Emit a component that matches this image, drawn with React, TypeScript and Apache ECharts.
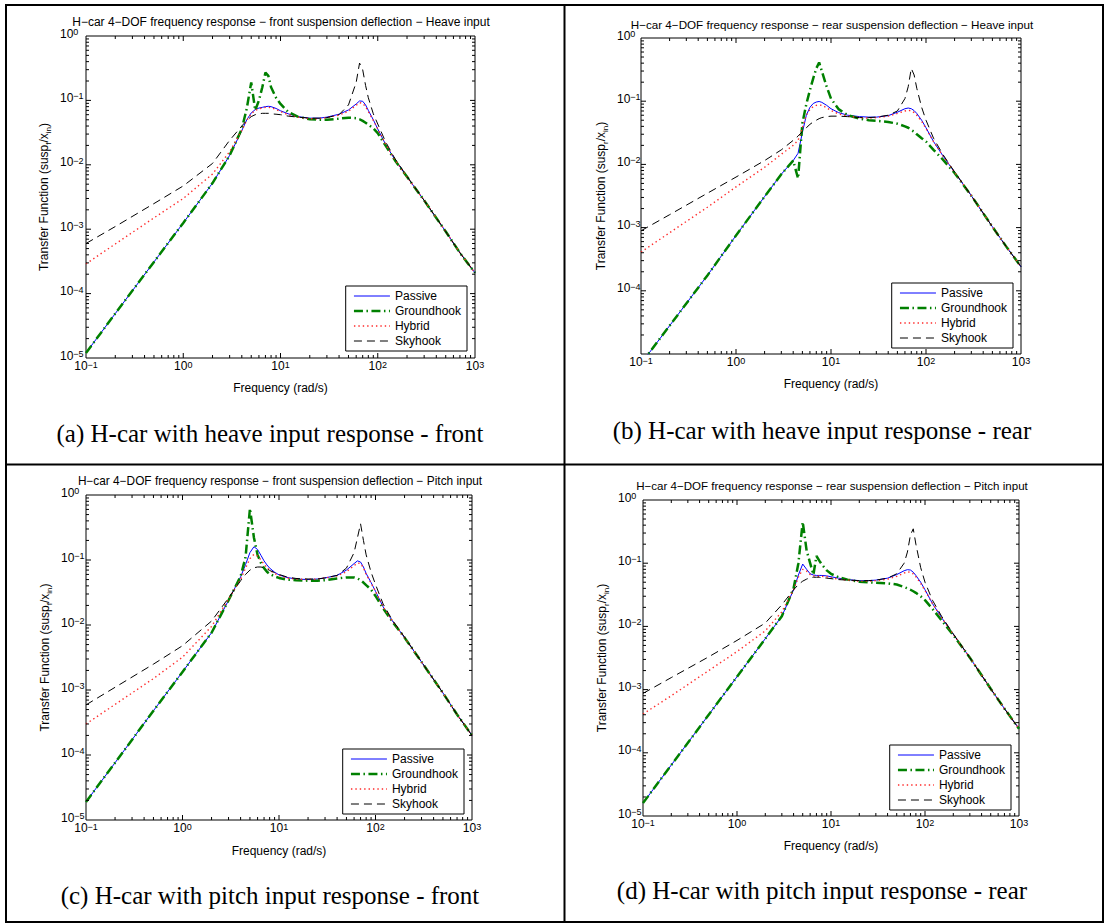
import React, { useEffect, useRef } from "react";
import * as echarts from "echarts";

const FONT = "Liberation Sans";
const SERIF = "Liberation Serif";

// Frequencies (rad/s) at which the curves were read
const FREQ = [0.1, 0.2, 0.5, 1, 2, 3, 4, 4.5, 5, 5.5, 6, 6.5, 7, 7.5, 8, 9, 10, 12, 15, 20, 25, 30, 40, 50, 60, 65, 70, 75, 80, 90, 100, 120, 150, 200, 300, 500, 700, 1000];

// (a) heave input - front
const PASSIVE_A = [1.2e-5, 4.9e-5, 3.1e-4, 1.25e-3, 5.2e-3, 0.014, 0.034, 0.05, 0.064, 0.072, 0.076, 0.078, 0.08, 0.081, 0.08, 0.075, 0.069, 0.062, 0.056, 0.053, 0.053, 0.055, 0.061, 0.071, 0.088, 0.098, 0.097, 0.085, 0.07, 0.05, 0.036, 0.021, 0.012, 6.5e-3, 2.8e-3, 9.2e-4, 4.3e-4, 2.1e-4];
const GROUND_A = [1.2e-5, 4.9e-5, 3.1e-4, 1.25e-3, 5.2e-3, 0.014, 0.036, 0.075, 0.19, 0.07, 0.1, 0.16, 0.27, 0.24, 0.16, 0.11, 0.088, 0.066, 0.056, 0.051, 0.05, 0.05, 0.052, 0.054, 0.053, 0.051, 0.048, 0.045, 0.042, 0.037, 0.031, 0.02, 0.0118, 6.5e-3, 2.8e-3, 9.2e-4, 4.3e-4, 2.1e-4];
const HYBRID_A = [2.9e-4, 5.9e-4, 1.5e-3, 3.0e-3, 7.2e-3, 0.016, 0.034, 0.049, 0.062, 0.07, 0.074, 0.076, 0.078, 0.078, 0.077, 0.072, 0.067, 0.06, 0.055, 0.052, 0.052, 0.054, 0.059, 0.068, 0.084, 0.092, 0.09, 0.08, 0.067, 0.049, 0.036, 0.021, 0.012, 6.5e-3, 2.8e-3, 9.2e-4, 4.3e-4, 2.1e-4];
const SKY_A = [6e-4, 1.1e-3, 2.5e-3, 4.7e-3, 0.0105, 0.024, 0.04, 0.049, 0.056, 0.06, 0.062, 0.063, 0.063, 0.063, 0.062, 0.061, 0.06, 0.057, 0.055, 0.053, 0.053, 0.054, 0.06, 0.085, 0.19, 0.38, 0.3, 0.17, 0.11, 0.062, 0.043, 0.023, 0.0125, 6.6e-3, 2.8e-3, 9.2e-4, 4.3e-4, 2.1e-4];

// (b) heave input - rear
const PASSIVE_B = [7e-6, 2.8e-5, 1.75e-4, 7.5e-4, 3.1e-3, 7e-3, 0.0115, 0.015, 0.032, 0.06, 0.08, 0.092, 0.097, 0.099, 0.096, 0.086, 0.076, 0.066, 0.06, 0.057, 0.056, 0.056, 0.059, 0.067, 0.076, 0.078, 0.076, 0.071, 0.064, 0.05, 0.038, 0.023, 0.0138, 7.5e-3, 3.2e-3, 1.03e-3, 5e-4, 2.4e-4];
const GROUND_B = [7e-6, 2.8e-5, 1.75e-4, 7.5e-4, 3.1e-3, 7e-3, 0.0115, 6e-3, 0.045, 0.09, 0.15, 0.23, 0.33, 0.41, 0.3, 0.17, 0.11, 0.075, 0.06, 0.053, 0.05, 0.049, 0.047, 0.044, 0.04, 0.038, 0.035, 0.033, 0.03, 0.026, 0.023, 0.017, 0.012, 7.3e-3, 3.2e-3, 1.03e-3, 5e-4, 2.4e-4];
const HYBRID_B = [4.1e-4, 8.3e-4, 2.1e-3, 4.4e-3, 9e-3, 0.0145, 0.02, 0.024, 0.038, 0.06, 0.074, 0.082, 0.086, 0.087, 0.086, 0.079, 0.071, 0.063, 0.058, 0.055, 0.054, 0.055, 0.058, 0.064, 0.07, 0.072, 0.07, 0.066, 0.06, 0.048, 0.037, 0.023, 0.0138, 7.5e-3, 3.2e-3, 1.03e-3, 5e-4, 2.4e-4];
const SKY_B = [8.9e-4, 1.6e-3, 3.5e-3, 6.3e-3, 0.0115, 0.017, 0.024, 0.028, 0.033, 0.038, 0.043, 0.047, 0.05, 0.053, 0.055, 0.057, 0.058, 0.058, 0.057, 0.055, 0.055, 0.056, 0.06, 0.07, 0.11, 0.17, 0.33, 0.26, 0.16, 0.08, 0.05, 0.026, 0.0145, 7.6e-3, 3.2e-3, 1.03e-3, 5e-4, 2.4e-4];

// (c) pitch input - front
const PASSIVE_C = [1.9e-5, 7.6e-5, 4.8e-4, 1.9e-3, 7.6e-3, 0.024, 0.055, 0.085, 0.13, 0.16, 0.145, 0.118, 0.097, 0.084, 0.075, 0.065, 0.059, 0.054, 0.051, 0.05, 0.051, 0.053, 0.058, 0.07, 0.088, 0.097, 0.093, 0.078, 0.062, 0.045, 0.033, 0.019, 0.0115, 6.4e-3, 2.7e-3, 9e-4, 4.2e-4, 2e-4];
const GROUND_C = [1.9e-5, 7.6e-5, 4.8e-4, 1.9e-3, 7.6e-3, 0.024, 0.056, 0.11, 0.62, 0.22, 0.12, 0.09, 0.075, 0.066, 0.061, 0.056, 0.053, 0.05, 0.049, 0.048, 0.048, 0.049, 0.052, 0.054, 0.054, 0.052, 0.049, 0.045, 0.041, 0.035, 0.028, 0.018, 0.0112, 6.4e-3, 2.7e-3, 9e-4, 4.2e-4, 2e-4];
const HYBRID_C = [3e-4, 6e-4, 1.5e-3, 3.2e-3, 9.5e-3, 0.025, 0.05, 0.075, 0.105, 0.122, 0.115, 0.1, 0.086, 0.077, 0.07, 0.062, 0.058, 0.053, 0.051, 0.05, 0.051, 0.053, 0.057, 0.066, 0.082, 0.09, 0.088, 0.076, 0.06, 0.044, 0.033, 0.019, 0.0115, 6.4e-3, 2.7e-3, 9e-4, 4.2e-4, 2e-4];
const SKY_C = [5.9e-4, 1.1e-3, 2.5e-3, 4.8e-3, 0.0115, 0.026, 0.048, 0.06, 0.07, 0.076, 0.078, 0.078, 0.076, 0.073, 0.069, 0.064, 0.06, 0.055, 0.052, 0.051, 0.051, 0.053, 0.058, 0.075, 0.13, 0.22, 0.36, 0.2, 0.12, 0.065, 0.042, 0.021, 0.0118, 6.5e-3, 2.7e-3, 9e-4, 4.2e-4, 2e-4];

// (d) pitch input - rear
const PASSIVE_D = [1.6e-5, 6.4e-5, 4e-4, 1.6e-3, 6.4e-3, 0.0145, 0.038, 0.065, 0.097, 0.08, 0.068, 0.065, 0.064, 0.064, 0.064, 0.063, 0.061, 0.058, 0.055, 0.053, 0.053, 0.054, 0.058, 0.066, 0.076, 0.079, 0.078, 0.072, 0.064, 0.05, 0.038, 0.023, 0.0138, 7.5e-3, 3.2e-3, 1.03e-3, 5e-4, 2.4e-4];
const GROUND_D = [1.6e-5, 6.4e-5, 4e-4, 1.6e-3, 6.4e-3, 0.0145, 0.04, 0.1, 0.45, 0.16, 0.1, 0.066, 0.13, 0.11, 0.095, 0.077, 0.068, 0.06, 0.055, 0.051, 0.05, 0.049, 0.048, 0.046, 0.042, 0.04, 0.038, 0.036, 0.034, 0.03, 0.026, 0.019, 0.0125, 7.3e-3, 3.2e-3, 1.03e-3, 5e-4, 2.4e-4];
const HYBRID_D = [4.1e-4, 8e-4, 2e-3, 4e-3, 8.5e-3, 0.017, 0.038, 0.06, 0.08, 0.075, 0.066, 0.063, 0.062, 0.062, 0.062, 0.061, 0.059, 0.056, 0.054, 0.052, 0.052, 0.053, 0.056, 0.062, 0.07, 0.073, 0.072, 0.068, 0.061, 0.048, 0.037, 0.023, 0.0138, 7.5e-3, 3.2e-3, 1.03e-3, 5e-4, 2.4e-4];
const SKY_D = [8.7e-4, 1.55e-3, 3.3e-3, 6e-3, 0.0113, 0.022, 0.038, 0.046, 0.052, 0.056, 0.059, 0.06, 0.06, 0.06, 0.059, 0.058, 0.057, 0.055, 0.054, 0.053, 0.053, 0.054, 0.058, 0.068, 0.1, 0.15, 0.28, 0.35, 0.2, 0.085, 0.05, 0.026, 0.0145, 7.6e-3, 3.2e-3, 1.03e-3, 5e-4, 2.4e-4];

const SERIES_NAMES = ["Passive", "Groundhook", "Hybrid", "Skyhook"];
const PANEL_DATA = [
  [PASSIVE_A, GROUND_A, HYBRID_A, SKY_A],
  [PASSIVE_B, GROUND_B, HYBRID_B, SKY_B],
  [PASSIVE_C, GROUND_C, HYBRID_C, SKY_C],
  [PASSIVE_D, GROUND_D, HYBRID_D, SKY_D],
];
const TITLES = [
  "H−car 4−DOF frequency response − front suspension deflection − Heave input",
  "H−car 4−DOF frequency response − rear suspension deflection − Heave input",
  "H−car 4−DOF frequency response − front suspension deflection − Pitch input",
  "H−car 4−DOF frequency response − rear suspension deflection − Pitch input",
];
const CAPTIONS = [
  "(a) H-car with heave input response - front",
  "(b) H-car with heave input response - rear",
  "(c) H-car with pitch input response - front",
  "(d) H-car with pitch input response - rear",
];
const SUBSCRIPTS = ["f", "r", "f", "r"];
const X_NAME = "Frequency (rad/s)";
const X_MIN = 0.1;
const X_MAX = 1000;
const Y_MIN = 1e-5;
const Y_MAX = 1;
const X_DECADES = [0.1, 1, 10, 100];
const Y_DECADES = [1e-5, 1e-4, 1e-3, 1e-2, 1e-1];
const MANTISSAS = [1, 2, 3, 4, 5, 6, 7, 8, 9];
const HIDE_BOTTOM_Y_LABEL = [false, true, false, false];

// layout
const GRIDS = [
  { left: 86, top: 36, width: 389, height: 322 },
  { left: 641, top: 38, width: 380, height: 316 },
  { left: 86, top: 495, width: 386, height: 325 },
  { left: 643, top: 500, width: 376, height: 316 },
];
const Y_LABEL_MARGIN = [26, 24, 25, 25];
const X_NAME_GAP = [24, 24, 25, 24];
const Y_NAME_GAP = [34, 32, 33, 33];
const TITLE_POS = [[281, 22], [832, 24], [280, 481], [832, 486]];
const TITLE_SIZE = [12, 11.65, 11.85, 11.55];
const CAPTION_POS = [[270, 433], [822, 430], [270, 895], [822, 890]];
const LEGEND_POS = [
  { right: 637, bottom: 572 },
  { right: 91, bottom: 575 },
  { right: 640, bottom: 109 },
  { right: 93, bottom: 113 },
];
const LINE_STYLES = [
  { color: "#0000ff", width: 1, type: "solid" as any },
  { color: "#008000", width: 2.5, type: [9, 3.5, 1.5, 3.5] },
  { color: "#ff2a2a", width: 1.4, type: [1.4, 3] },
  { color: "#000000", width: 1, type: [8, 5] },
];

const supLabel = (v: number) => {
  const e = Math.round(Math.log10(v));
  const s = e < 0 ? "−" + -e : String(e);
  return `{b|10}{e|${s}}`;
};

const labelRich = {
  b: { fontSize: 12, lineHeight: 12, padding: [6, 0, 0, 0], verticalAlign: "bottom", fontFamily: FONT, color: "#000" },
  e: { fontSize: 9, lineHeight: 9, verticalAlign: "top", fontFamily: FONT, color: "#000" },
};

function buildXTicks() {
  const out: number[][] = [];
  X_DECADES.forEach((d) =>
    MANTISSAS.forEach((m) => {
      const x = m * d;
      if (x > X_MIN * 1.001 && x < X_MAX * 0.999) out.push([x, Y_MIN]);
    })
  );
  return out;
}
function buildYTicks() {
  const out: number[][] = [];
  Y_DECADES.forEach((d) =>
    MANTISSAS.forEach((m) => {
      const y = m * d;
      if (y > Y_MIN * 1.001 && y < Y_MAX * 0.999) out.push([X_MIN, y]);
    })
  );
  return out;
}
const isDecade = (v: number) => Math.abs(Math.log10(v) - Math.round(Math.log10(v))) < 1e-6;
const TICK_STYLE = { stroke: "#000", lineWidth: 1 };

function xTickRender(params: any, api: any) {
  const x = api.value(0);
  const len = isDecade(x) ? 5 : 3;
  const b = api.coord([x, Y_MIN]);
  const t = api.coord([x, Y_MAX]);
  return {
    type: "group",
    children: [
      { type: "line", shape: { x1: b[0], y1: b[1], x2: b[0], y2: b[1] - len }, style: TICK_STYLE },
      { type: "line", shape: { x1: t[0], y1: t[1], x2: t[0], y2: t[1] + len }, style: TICK_STYLE },
    ],
  };
}
function yTickRender(params: any, api: any) {
  const y = api.value(1);
  const len = isDecade(y) ? 5 : 3;
  const l = api.coord([X_MIN, y]);
  const r = api.coord([X_MAX, y]);
  return {
    type: "group",
    children: [
      { type: "line", shape: { x1: l[0], y1: l[1], x2: l[0] + len, y2: l[1] }, style: TICK_STYLE },
      { type: "line", shape: { x1: r[0], y1: r[1], x2: r[0] - len, y2: r[1] }, style: TICK_STYLE },
    ],
  };
}

function buildOption() {
  const xTicks = buildXTicks();
  const yTicks = buildYTicks();
  const grid: any[] = [];
  const xAxis: any[] = [];
  const yAxis: any[] = [];
  const series: any[] = [];
  const legend: any[] = [];
  const graphic: any[] = [];

  for (let p = 0; p < 4; p++) {
    grid.push({
      ...GRIDS[p],
      show: true,
      borderColor: "#000",
      borderWidth: 1,
      backgroundColor: "transparent",
    });
    xAxis.push({
      type: "log",
      logBase: 10,
      gridIndex: p,
      min: X_MIN,
      max: X_MAX,
      axisLine: { show: false },
      axisTick: { show: false },
      splitLine: { show: false },
      axisLabel: { formatter: supLabel, rich: labelRich, margin: 2 },
      name: X_NAME,
      nameLocation: "middle",
      nameGap: X_NAME_GAP[p],
      nameTextStyle: { fontSize: 12, color: "#000", fontFamily: FONT },
    });
    const hide = HIDE_BOTTOM_Y_LABEL[p];
    yAxis.push({
      type: "log",
      logBase: 10,
      gridIndex: p,
      min: Y_MIN,
      max: Y_MAX,
      axisLine: { show: false },
      axisTick: { show: false },
      splitLine: { show: false },
      axisLabel: {
        formatter: (v: number) => (hide && Math.round(Math.log10(v)) === -5 ? "" : supLabel(v)),
        rich: labelRich,
        margin: Y_LABEL_MARGIN[p],
        align: "left",
        padding: [0, 0, 5, 0],
      },
      name: `{n|Transfer Function (susp}{s|${SUBSCRIPTS[p]}}{n|/x}{s|in}{n|)}`,
      nameLocation: "middle",
      nameGap: Y_NAME_GAP[p],
      nameTextStyle: {
        color: "#000",
        fontFamily: FONT,
        rich: {
          n: { fontSize: 12, lineHeight: 14, verticalAlign: "top", fontFamily: FONT, color: "#000" },
          s: { fontSize: 8, lineHeight: 8, padding: [7, 0, 0, 0], verticalAlign: "bottom", fontFamily: FONT, color: "#000" },
        },
      },
    });
    PANEL_DATA[p].forEach((vals, k) => {
      const ls = LINE_STYLES[k];
      series.push({
        type: "line",
        name: SERIES_NAMES[k],
        xAxisIndex: p,
        yAxisIndex: p,
        data: FREQ.map((f, i) => [f, vals[i]]),
        symbol: "none",
        color: ls.color,
        lineStyle: { color: ls.color, width: ls.width, type: ls.type },
        z: 3 + k,
        clip: true,
        silent: true,
      });
    });
    series.push({
      type: "custom",
      name: "xticks" + p,
      xAxisIndex: p,
      yAxisIndex: p,
      data: xTicks,
      renderItem: xTickRender,
      silent: true,
      z: 10,
    });
    series.push({
      type: "custom",
      name: "yticks" + p,
      xAxisIndex: p,
      yAxisIndex: p,
      data: yTicks,
      renderItem: yTickRender,
      silent: true,
      z: 10,
    });
    legend.push({
      ...LEGEND_POS[p],
      orient: "vertical",
      data: SERIES_NAMES,
      itemWidth: 36,
      itemHeight: 10,
      itemGap: 1,
      padding: [3, 6, 3, 7],
      borderColor: "#000",
      borderWidth: 1,
      backgroundColor: "#fff",
      selectedMode: false,
      itemStyle: { opacity: 0 },
      lineStyle: { width: "inherit" },
      textStyle: { fontSize: 12, lineHeight: 14, color: "#000", fontFamily: FONT },
      z: 20,
    });
    graphic.push({
      type: "text",
      x: TITLE_POS[p][0],
      y: TITLE_POS[p][1],
      style: {
        text: TITLES[p],
        font: `${TITLE_SIZE[p]}px "${FONT}"`,
        fill: "#000",
        align: "center",
        verticalAlign: "middle",
        textAlign: "center",
        textVerticalAlign: "middle",
      },
    });
    graphic.push({
      type: "text",
      x: CAPTION_POS[p][0],
      y: CAPTION_POS[p][1],
      style: {
        text: CAPTIONS[p],
        font: `25px "${SERIF}"`,
        fill: "#000",
        align: "center",
        verticalAlign: "middle",
        textAlign: "center",
        textVerticalAlign: "middle",
      },
    });
  }

  // table borders
  graphic.push({
    type: "rect",
    shape: { x: 6, y: 5, width: 1097, height: 917 },
    style: { fill: "none", stroke: "#000", lineWidth: 2 },
  });
  graphic.push({
    type: "line",
    shape: { x1: 564.5, y1: 5, x2: 564.5, y2: 922 },
    style: { stroke: "#000", lineWidth: 2 },
  });
  graphic.push({
    type: "line",
    shape: { x1: 6, y1: 464.5, x2: 1103, y2: 464.5 },
    style: { stroke: "#000", lineWidth: 2 },
  });

  return {
    animation: false,
    backgroundColor: "#fff",
    textStyle: { fontFamily: FONT },
    grid,
    xAxis,
    yAxis,
    legend,
    series,
    graphic,
  };
}

export default function App() {
  const ref = useRef<HTMLDivElement>(null);
  useEffect(() => {
    if (!ref.current) return;
    const chart = echarts.init(ref.current, undefined, { renderer: "svg" });
    chart.setOption(buildOption() as any);
    return () => chart.dispose();
  }, []);
  return (
    <div
      ref={ref}
      style={{ position: "absolute", left: 0, top: 0, width: 1104, height: 923, background: "#fff" }}
    />
  );
}
